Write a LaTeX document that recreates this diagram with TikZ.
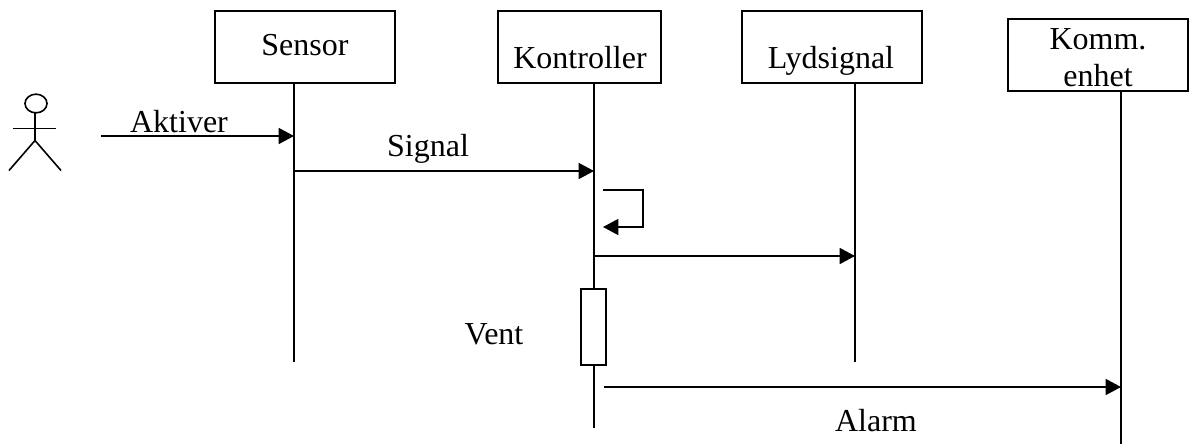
\documentclass[tikz,border=0pt]{standalone}
\usepackage{fontspec}
\setmainfont{Liberation Serif}
\usetikzlibrary{positioning}
\usetikzlibrary{arrows.meta}
\usetikzlibrary{shapes.geometric}
\tikzset{lifebox/.style={draw,fill=white,minimum height=54pt,inner sep=0pt,outer sep=0pt}}
\tikzset{msgtext/.style={anchor=base,inner sep=0pt,font=\fontsize{24}{27.75}\selectfont}}

\begin{document}
\begin{tikzpicture}[x=0.75pt,y=-0.75pt,line width=1.2pt,>={Triangle[length=11.5pt,width=12pt]}]
\useasboundingbox (0,0) rectangle (1189,444);
% boxes
\node[lifebox,minimum width=135pt] (sensor) at (305,47) {};
\node[lifebox,minimum width=122pt] (kontroller) at (579.5,47) {};
\node[lifebox,minimum width=135pt] (lydsignal) at (832,47) {};
\node[lifebox,minimum width=135pt] (komm) at (1098,55) {};
\node[msgtext] (sensortext) at (305,55) {Sensor};
\node[msgtext] (kontrollertext) at (580,68) {Kontroller};
\node[msgtext] (lydsignaltext) at (831,68) {Lydsignal};
\node[msgtext,anchor=center,align=center] (kommtext) at (1098,58) {Komm.\\enhet};
% lifelines
\coordinate (sensorend) at (294,362);
\coordinate (kontrollerend) at (594,428);
\coordinate (lydsignalend) at (855,362);
\coordinate (kommend) at (1121,444);
\draw (sensorend |- sensor.south) -- (sensorend);
\draw (kontrollerend |- kontroller.south) -- (kontrollerend);
\draw (lydsignalend |- lydsignal.south) -- (lydsignalend);
\draw (kommend |- komm.south) -- (kommend);
% actor
\node[draw,ellipse,minimum width=16.5pt,minimum height=14pt,inner sep=0pt,outer sep=0pt] (head) at (36,103.5) {};
\coordinate (hip) at (35,140.5);
\coordinate (armleft) at (13,128.5);
\coordinate (armright) at (56,128.5);
\coordinate (footleft) at (9,170.5);
\coordinate (footright) at (61,170.5);
\draw (hip |- head.south) -- (hip);
\draw (armleft) -- (armright);
\draw (footleft) -- (hip) -- (footright);
% messages
\coordinate (aktiverstart) at (101,136);
\coordinate (aktiverend) at (294,136);
\draw[->] (aktiverstart) -- (aktiverend);
\node[msgtext] (aktivertext) at (179,132) {Aktiver};
\coordinate (signalstart) at (294,171);
\coordinate (signalend) at (594,171);
\draw[->] (signalstart) -- (signalend);
\node[msgtext] (signaltext) at (428,156) {Signal};
\coordinate (selfstart) at (603,190);
\coordinate (selfend) at (603,227);
\draw[->] (selfstart) -- (643,190) -- (643,227) -- (selfend);
\coordinate (lydstart) at (594,256);
\coordinate (lydend) at (855,256);
\draw[->] (lydstart) -- (lydend);
\node[draw,fill=white,minimum width=19pt,minimum height=57pt,inner sep=0pt,outer sep=0pt] (ventbox) at (593.5,327) {};
\node[msgtext] (venttext) at (494,344) {Vent};
\coordinate (alarmstart) at (604,387);
\coordinate (alarmend) at (1121,387);
\draw[->] (alarmstart) -- (alarmend);
\node[msgtext] (alarmtext) at (876,431) {Alarm};
\end{tikzpicture}
\end{document}
